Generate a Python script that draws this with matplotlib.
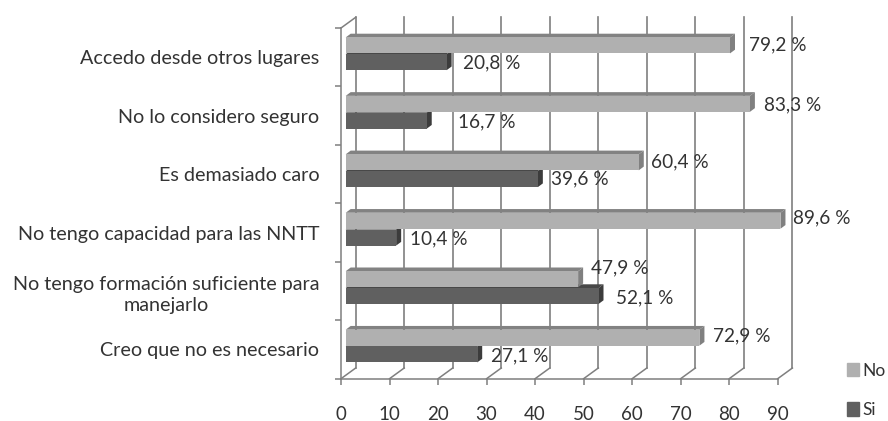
import matplotlib
matplotlib.use("Agg")
import matplotlib.pyplot as plt
from matplotlib.patches import Patch, Polygon

plt.rcParams["font.family"] = ["Lato", "DejaVu Sans"]

categories = [
    "Accedo desde otros lugares",
    "No lo considero seguro",
    "Es demasiado caro",
    "No tengo capacidad para las NNTT",
    "No tengo formación suficiente para\nmanejarlo",
    "Creo que no es necesario",
]
no_values = [79.2, 83.3, 60.4, 89.6, 47.9, 72.9]
si_values = [20.8, 16.7, 39.6, 10.4, 52.1, 27.1]
x_ticks = [0, 10, 20, 30, 40, 50, 60, 70, 80, 90]

# label offset from each bar end, px (hand placed in the original)
no_gaps = [(14, 1), (9, -1), (7, 0), (8, 3), (8, 11), (9, 1.5)]
si_gaps = [(11, -1), (26, -1.5), (8, 0), (9, -1.5), (12.5, -2), (9, -1.5)]

W, H = 888, 421
X0, X90, Y_TOP, Y_BOT = 341, 777.7, 28, 378.7
PX_X = (X90 - X0) / 90
PX_Y = (Y_BOT - Y_TOP) / 6

WALL_X, WALL_Y = 14.7 / PX_X, 10.7 / PX_Y   # back wall offset
BAR_LEFT = 4.7 / PX_X
DEPTH_X, DEPTH_Y = 5 / PX_X, 3.7 / PX_Y     # bar depth
BAR_H = 16 / PX_Y
NO_POS, SI_POS = 17.4 / PX_Y, 34.2 / PX_Y

TEXT = "#333333"
GRID = "#7f7f7f"

fig = plt.figure(figsize=(W / 100, H / 100), dpi=100)
ax = fig.add_axes([X0 / W, 1 - Y_BOT / H, (X90 - X0) / W, (Y_BOT - Y_TOP) / H])
ax.set_xlim(0, 90)
ax.set_ylim(6, 0)
ax.patch.set_visible(False)

for s in ["top", "right"]:
    ax.spines[s].set_visible(False)
for s in ["left", "bottom"]:
    ax.spines[s].set_color(GRID)
    ax.spines[s].set_linewidth(1.1)

# back wall and floor
for x in x_ticks:
    ax.plot([x, x + WALL_X], [6, 6 - WALL_Y], color=GRID, lw=1.1, clip_on=False, zorder=1)
    ax.plot([x + WALL_X, x + WALL_X], [6 - WALL_Y, -WALL_Y], color=GRID, lw=1.2, clip_on=False, zorder=1)
ax.plot([0, WALL_X], [0, -WALL_Y], color=GRID, lw=1.1, clip_on=False, zorder=1)


def draw_series(values, gaps, pos, front, top, side, z):
    ys = [i + pos for i in range(len(values))]
    ax.barh(ys, values, height=BAR_H, left=BAR_LEFT, color=front, zorder=z + 0.2, clip_on=False)
    for y, v, gap in zip(ys, values, gaps):
        y0, y1 = y - BAR_H / 2, y + BAR_H / 2
        x1 = BAR_LEFT + v
        ax.add_patch(Polygon([(BAR_LEFT, y0), (BAR_LEFT + DEPTH_X, y0 - DEPTH_Y),
                              (x1 + DEPTH_X, y0 - DEPTH_Y), (x1, y0)],
                             color=top, lw=0, zorder=z, clip_on=False))
        ax.add_patch(Polygon([(x1, y0), (x1 + DEPTH_X, y0 - DEPTH_Y),
                              (x1 + DEPTH_X, y1 - DEPTH_Y), (x1, y1)],
                             color=side, lw=0, zorder=z + 0.1, clip_on=False))
        ax.annotate(f"{v:.1f} %".replace(".", ","), (x1 + DEPTH_X, y),
                    xytext=gap, textcoords="offset pixels",
                    va="center", ha="left", fontsize=13.7, color=TEXT,
                    annotation_clip=False, zorder=10)


draw_series(si_values, si_gaps, SI_POS, "#606060", "#484848", "#3c3c3c", 3)
draw_series(no_values, no_gaps, NO_POS, "#b0b0b0", "#828282", "#808080", 4)

ax.set_xticks(x_ticks)
ax.tick_params(axis="x", length=4.3, width=1.1, color=GRID, labelcolor=TEXT,
               labelsize=13.5, pad=15.5)
ax.set_yticks(range(7))
ax.set_yticklabels([])
ax.tick_params(axis="y", which="major", length=4.3, width=1.1, color=GRID)
ax.set_yticks([i + 0.5 for i in range(6)], minor=True)
ax.set_yticklabels(categories, minor=True, multialignment="center", linespacing=1.35)
ax.tick_params(axis="y", which="minor", length=0, pad=15.5, labelsize=14.2, labelcolor=TEXT)

handles = [Patch(color="#b0b0b0", label="No"), Patch(color="#606060", label="Si")]
fig.legend(handles=handles, loc="lower left", bbox_to_anchor=(847 / W, 1 - 418 / H),
           frameon=False, fontsize=12.5, labelcolor=TEXT, handlelength=0.7,
           handleheight=0.85, handletextpad=0.2, labelspacing=1.35,
           borderpad=0, borderaxespad=0)

fig.savefig("out.png", dpi=100)
